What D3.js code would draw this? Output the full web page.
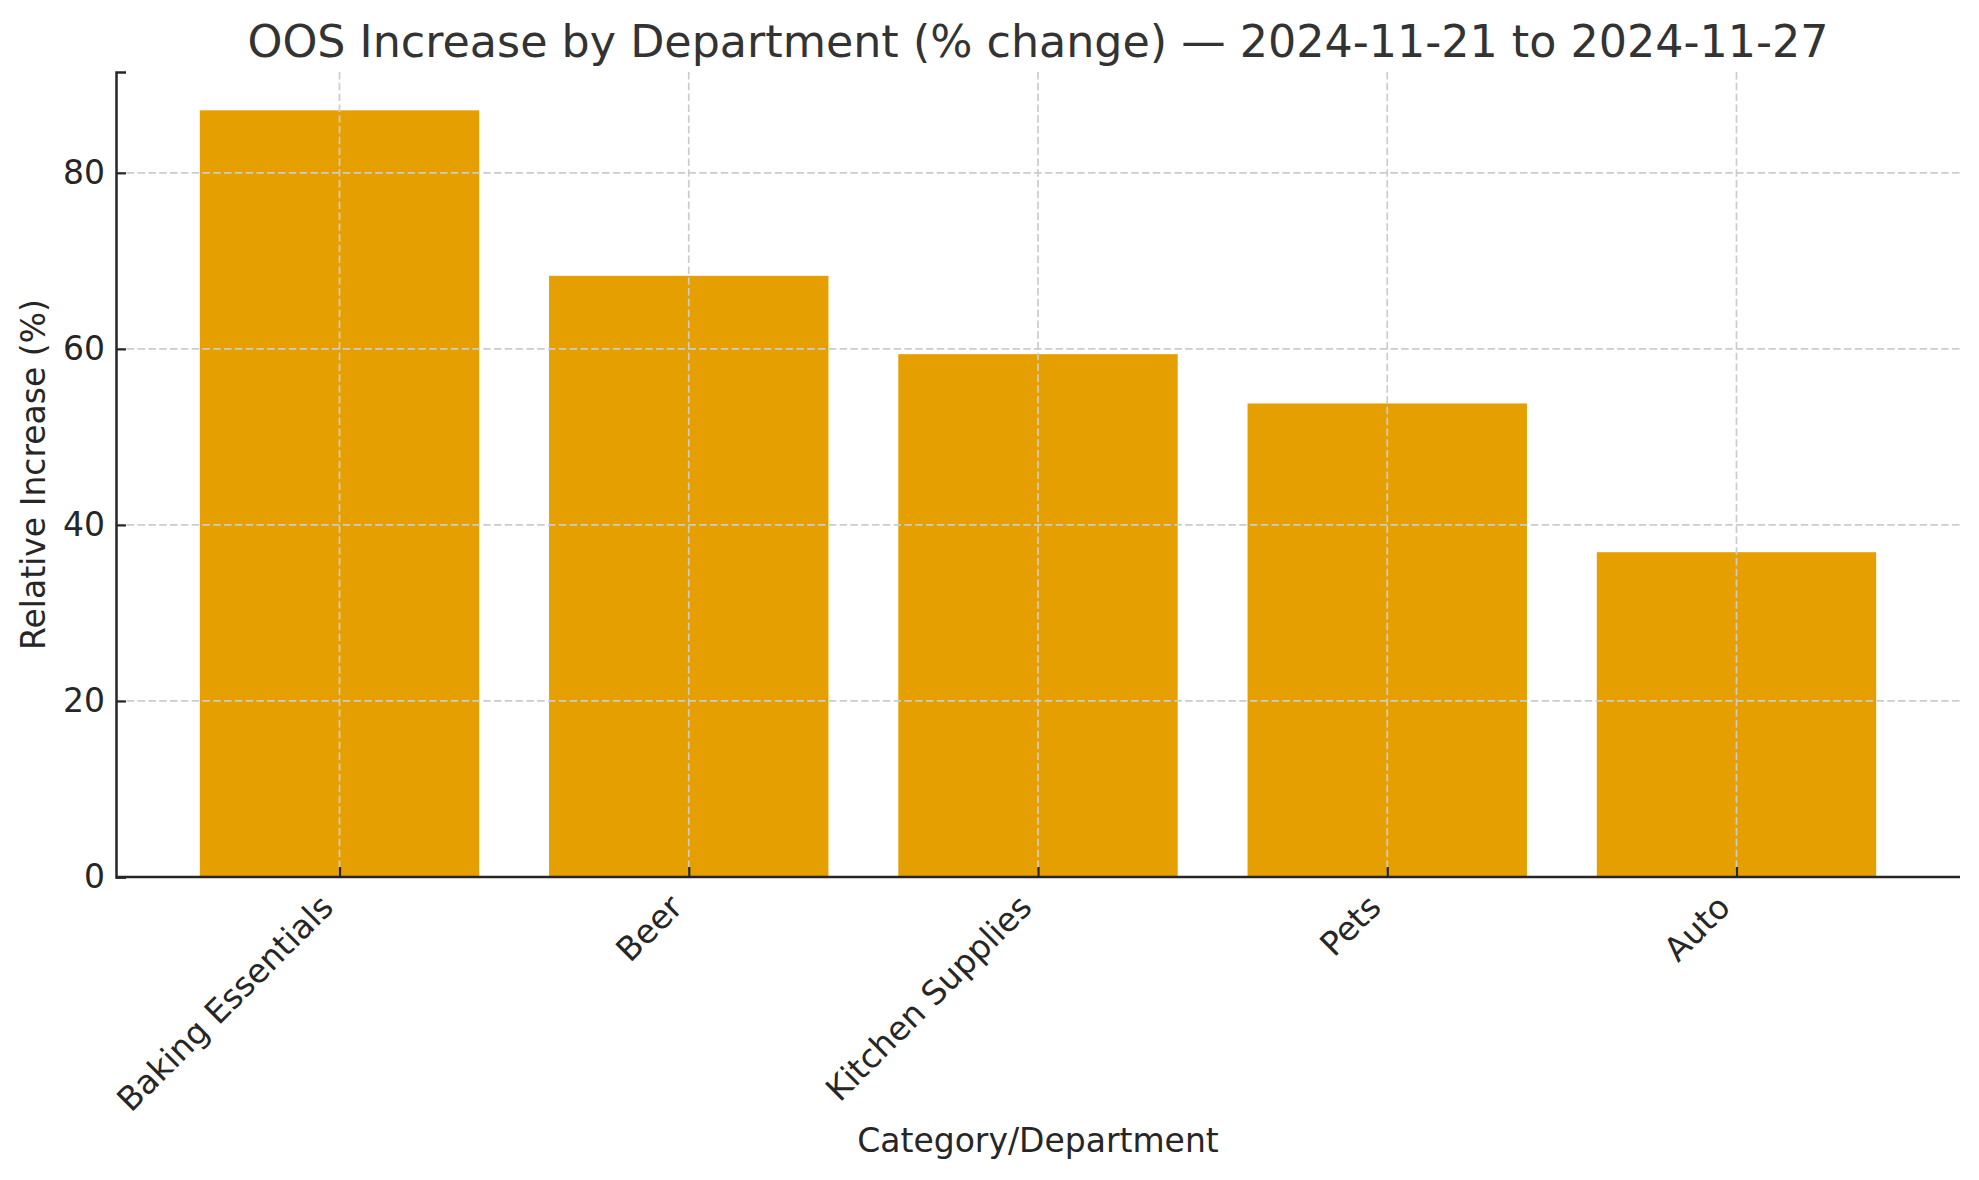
<!DOCTYPE html>
<html lang="en">
<head>
    <meta charset="UTF-8">
    <title>OOS Increase by Department</title>
    <script src="https://d3js.org/d3.v7.min.js"></script>
    <style>
        body { margin: 0; background: #fff; }
        svg { display: block; font-family: "DejaVu Sans", sans-serif; }
        .grid line { stroke: #cccccc; stroke-width: 1.7; stroke-dasharray: 7.5 3.3; }
    </style>
</head>
<body>
    <svg width="1979" height="1180"></svg>

    <script>
        const categories = ["Baking Essentials", "Beer", "Kitchen Supplies", "Pets", "Auto"];
        const values = [87.1, 68.3, 59.4, 53.8, 36.9];
        const yTicks = [0, 20, 40, 60, 80];

        const svg = d3.select("svg");
        const margin = { top: 72, right: 19, bottom: 303, left: 116 };
        const width = 1979 - margin.left - margin.right;
        const height = 1180 - margin.top - margin.bottom;

        const g = svg.append("g")
            .attr("transform", `translate(${margin.left},${margin.top})`);

        // matplotlib-like margins: bars of width 0.8 plus 5% padding
        const n = categories.length;
        const span = (n - 1) + 0.8;
        const xLin = d3.scaleLinear()
            .domain([-0.4 - span * 0.05, n - 1 + 0.4 + span * 0.05])
            .range([0, width]);

        const y = d3.scaleLinear()
            .domain([0, d3.max(values) * 1.05])
            .range([height, 0]);

        // grid
        g.append("g").attr("class", "grid")
            .selectAll("line").data(yTicks).enter().append("line")
            .attr("x1", 0).attr("x2", width)
            .attr("y1", d => y(d)).attr("y2", d => y(d));

        g.append("g").attr("class", "grid")
            .selectAll("line").data(categories).enter().append("line")
            .attr("x1", (d, i) => xLin(i)).attr("x2", (d, i) => xLin(i))
            .attr("y1", 0).attr("y2", height);

        // bars
        g.selectAll(".bar")
            .data(values)
            .enter().append("rect")
            .attr("class", "bar")
            .attr("x", (d, i) => xLin(i - 0.4))
            .attr("width", xLin(0.8) - xLin(0))
            .attr("y", d => y(d))
            .attr("height", d => height - y(d))
            .attr("fill", "#E69F00");

        // grid goes over the bars in the reference
        g.selectAll(".grid").raise();

        // y axis
        const yAxis = g.append("g")
            .attr("font-family", "DejaVu Sans")
            .call(d3.axisLeft(y).tickValues(yTicks).tickSize(-10).tickPadding(11));
        yAxis.attr("font-family", "DejaVu Sans");
        yAxis.select(".domain").attr("stroke", "#262626").attr("stroke-width", 2.5);
        yAxis.selectAll(".tick line").attr("stroke", "#262626").attr("stroke-width", 2.2);
        yAxis.selectAll(".tick text")
            .attr("fill", "#262626")
            .style("font-size", "33px");

        // x axis
        const x = d3.scalePoint().domain(categories).range([xLin(0), xLin(n - 1)]);
        const xAxis = g.append("g")
            .attr("transform", `translate(0,${height})`)
            .call(d3.axisBottom(x).tickSize(-10).tickSizeOuter(0).tickPadding(0));
        xAxis.attr("font-family", "DejaVu Sans");
        xAxis.select(".domain").attr("stroke", "#262626").attr("stroke-width", 2.5)
            .attr("d", `M0,0H${width}`);
        xAxis.selectAll(".tick line").attr("stroke", "#262626").attr("stroke-width", 2.2);
        xAxis.selectAll(".tick text")
            .attr("fill", "#262626")
            .style("font-size", "33px")
            .attr("text-anchor", "end")
            .attr("dy", "0.95em")
            .attr("transform", "translate(-27,10) rotate(-45)");

        // axis labels
        svg.append("text")
            .attr("x", margin.left + width / 2)
            .attr("y", 1152)
            .attr("text-anchor", "middle")
            .attr("fill", "#262626")
            .style("font-size", "33px")
            .text("Category/Department");

        svg.append("text")
            .attr("transform", `translate(45,${margin.top + height / 2}) rotate(-90)`)
            .attr("text-anchor", "middle")
            .attr("fill", "#262626")
            .style("font-size", "33px")
            .text("Relative Increase (%)");

        // title
        svg.append("text")
            .attr("x", margin.left + width / 2)
            .attr("y", 57)
            .attr("text-anchor", "middle")
            .attr("fill", "#333333")
            .style("font-size", "44.4px")
            .text("OOS Increase by Department (% change) — 2024-11-21 to 2024-11-27");
    </script>
</body>
</html>
